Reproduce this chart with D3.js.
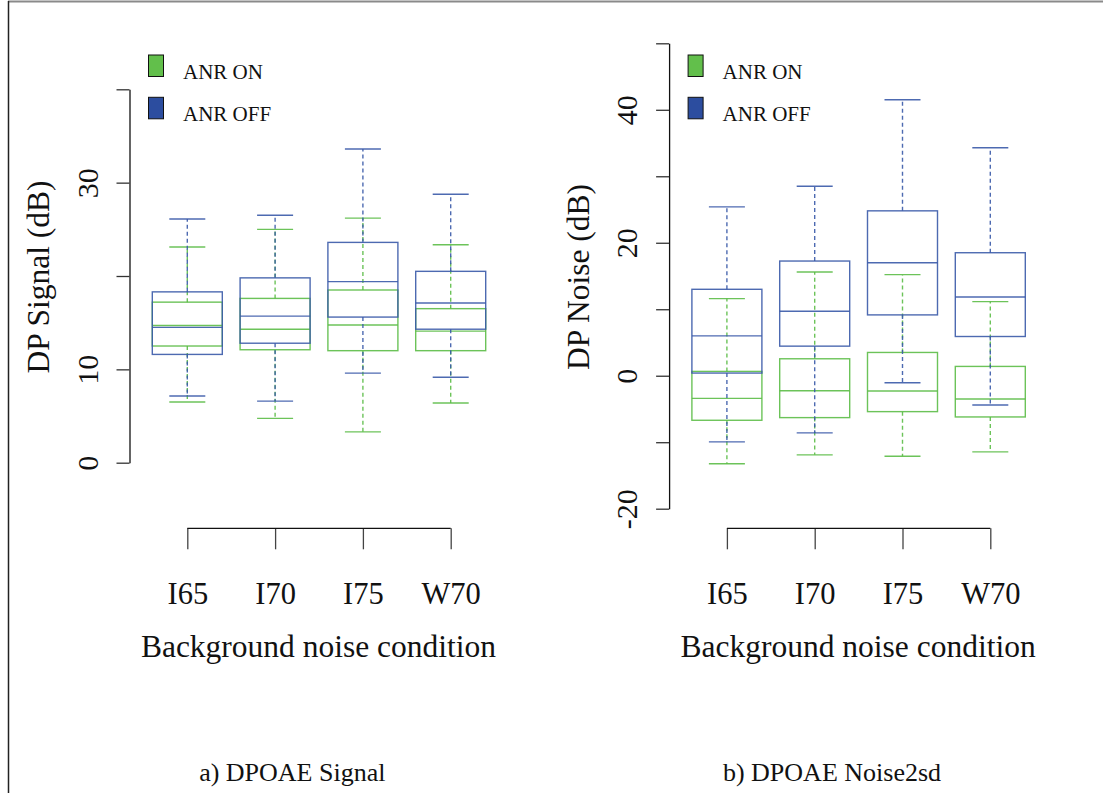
<!DOCTYPE html>
<html>
<head>
<meta charset="utf-8">
<script src="https://cdn.jsdelivr.net/npm/d3@7/dist/d3.min.js"></script>
<style>
  html, body { margin: 0; padding: 0; background: #fff; }
  svg { display: block; }
  text { font-family: "Liberation Serif", "Times New Roman", serif; fill: #111; }
</style>
</head>
<body>
<svg id="chart" width="1103" height="793"></svg>
<script>
// Noise conditions on the x axis
const categories = ["I65", "I70", "I75", "W70"];

// Five-number summaries per condition: [lower whisker, Q1, median, Q3, upper whisker]
const signalOn  = [[6.5, 12.5, 14.7, 17.2, 23.1], [4.75, 12.1, 14.3, 17.6, 25.0], [3.3, 12.0, 14.75, 18.5, 26.2], [6.4, 12.0, 14.1, 16.5, 23.35]];
const signalOff = [[7.15, 11.6, 14.5, 18.3, 26.1], [6.6, 12.8, 15.7, 19.8, 26.5], [9.6, 15.6, 19.4, 23.6, 33.6], [9.15, 14.3, 17.1, 20.5, 28.75]];
const noiseOn   = [[-13.25, -6.7, -3.4, 0.65, 11.6], [-11.9, -6.3, -2.25, 2.55, 15.6], [-12.1, -5.4, -2.3, 3.5, 15.2], [-11.45, -6.2, -3.5, 1.4, 11.15]];
const noiseOff  = [[-9.95, 0.4, 6.0, 13.0, 25.4], [-8.6, 4.45, 9.7, 17.25, 28.5], [-1.05, 9.15, 17.0, 24.8, 41.5], [-4.4, 5.9, 11.85, 18.5, 34.3]];

// Axis ticks and which of them carry a label
const signalTicks = [0, 10, 20, 30, 40];
const signalTickLabels = ["0", "10", "", "30", ""];
const noiseTicks = [-20, -10, 0, 10, 20, 30, 40, 50];
const noiseTickLabels = ["-20", "", "0", "", "20", "", "40", ""];

const legendLabels = ["ANR ON", "ANR OFF"];

const GREEN = "#5cbd47", BLUE = "#3a5aa8";
const GREEN_FILL = "#62bf4b", BLUE_FILL = "#2c4d9f";

const svg = d3.select("#chart");

// page frame
svg.append("line").attr("x1", 8).attr("x2", 1103).attr("y1", 1.5).attr("y2", 1.5)
  .attr("stroke", "#8a8a8a").attr("stroke-width", 2);
svg.append("line").attr("x1", 8.5).attr("x2", 8.5).attr("y1", 1).attr("y2", 793)
  .attr("stroke", "#222").attr("stroke-width", 1.5);

function panel(opts) {
  const g = svg.append("g").attr("transform", `translate(${opts.dx},0)`);

  const x = d3.scalePoint().domain(categories).range([187.3, 450.7]);
  const y = d3.scaleLinear().domain(opts.domain).range(opts.range);

  // y axis
  const ya = g.append("g").attr("transform", "translate(129.5,0)")
    .call(d3.axisLeft(y).tickValues(opts.ticks).tickSize(13).tickSizeOuter(0)
      .tickFormat((d, i) => opts.tickLabels[i]));
  ya.select(".domain").attr("stroke", "#111").attr("stroke-width", 1.3);
  ya.selectAll(".tick line").attr("stroke", "#333").attr("stroke-width", 1.3);
  ya.selectAll(".tick text")
    .attr("x", null).attr("dy", null).attr("y", null)
    .attr("text-anchor", "middle")
    .attr("transform", "translate(-32,0) rotate(-90)")
    .style("font-size", "30px").style("font-family", "Liberation Serif").attr("fill", "#111");

  // x axis
  const xa = g.append("g").attr("transform", "translate(0,528.3)")
    .call(d3.axisBottom(x).tickSize(21).tickSizeOuter(0));
  xa.select(".domain").remove();
  xa.append("line").attr("x1", x(categories[0])).attr("x2", x(categories[categories.length - 1]))
    .attr("y1", 0).attr("y2", 0).attr("stroke", "#111").attr("stroke-width", 1.3);
  xa.selectAll(".tick line").attr("stroke", "#444").attr("stroke-width", 1.3);
  xa.selectAll(".tick text").attr("y", 76).attr("dy", null)
    .style("font-size", "30.5px").style("font-family", "Liberation Serif").attr("fill", "#111");

  // axis titles
  g.append("text").attr("x", 318.5).attr("y", 656.7).attr("text-anchor", "middle")
    .style("font-size", "31.5px").text("Background noise condition");
  g.append("text").attr("text-anchor", "middle")
    .attr("transform", `translate(49,277) rotate(-90)`)
    .style("font-size", "31.5px").text(opts.yTitle);

  // boxes: ANR ON first, ANR OFF drawn over it
  [[opts.on, GREEN], [opts.off, BLUE]].forEach(([stats, color]) => {
    const boxes = g.append("g").attr("stroke", color).attr("fill", "none")
      .attr("stroke-width", 1.4).attr("stroke-opacity", 0.9);
    stats.forEach((s, i) => {
      const cx = x(categories[i]);
      const [lo, q1, med, q3, hi] = s;
      // whiskers
      boxes.append("line").attr("x1", cx).attr("x2", cx).attr("y1", y(q3)).attr("y2", y(hi))
        .attr("stroke-dasharray", "4,3");
      boxes.append("line").attr("x1", cx).attr("x2", cx).attr("y1", y(q1)).attr("y2", y(lo))
        .attr("stroke-dasharray", "4,3");
      // caps
      boxes.append("line").attr("x1", cx - 18).attr("x2", cx + 18).attr("y1", y(hi)).attr("y2", y(hi));
      boxes.append("line").attr("x1", cx - 18).attr("x2", cx + 18).attr("y1", y(lo)).attr("y2", y(lo));
      // box and median
      boxes.append("rect").attr("x", cx - 35).attr("width", 70)
        .attr("y", y(q3)).attr("height", y(q1) - y(q3));
      boxes.append("line").attr("x1", cx - 35).attr("x2", cx + 35).attr("y1", y(med)).attr("y2", y(med));
    });
  });

  // legend
  const fills = [GREEN_FILL, BLUE_FILL];
  legendLabels.forEach((lab, i) => {
    const top = 55 + i * 42.3;
    g.append("rect").attr("x", 148.5).attr("y", top).attr("width", 15).attr("height", 21.5)
      .attr("fill", fills[i]).attr("stroke", "#111").attr("stroke-width", 1);
    g.append("text").attr("x", 183).attr("y", top + 23.5).style("font-size", "21px").text(lab);
  });

  // caption
  svg.append("text").attr("x", opts.captionX).attr("y", 780.5).attr("text-anchor", "middle")
    .style("font-size", "26px").text(opts.caption);
}

panel({
  dx: 0, domain: [0, 40], range: [462.7, 89.3],
  ticks: signalTicks, tickLabels: signalTickLabels,
  on: signalOn, off: signalOff,
  yTitle: "DP Signal (dB)", caption: "a) DPOAE Signal", captionX: 292.3
});
panel({
  dx: 539.6, domain: [-20, 50], range: [508.7, 43.3],
  ticks: noiseTicks, tickLabels: noiseTickLabels,
  on: noiseOn, off: noiseOff,
  yTitle: "DP Noise (dB)", caption: "b) DPOAE Noise2sd", captionX: 832
});
</script>
</body>
</html>
